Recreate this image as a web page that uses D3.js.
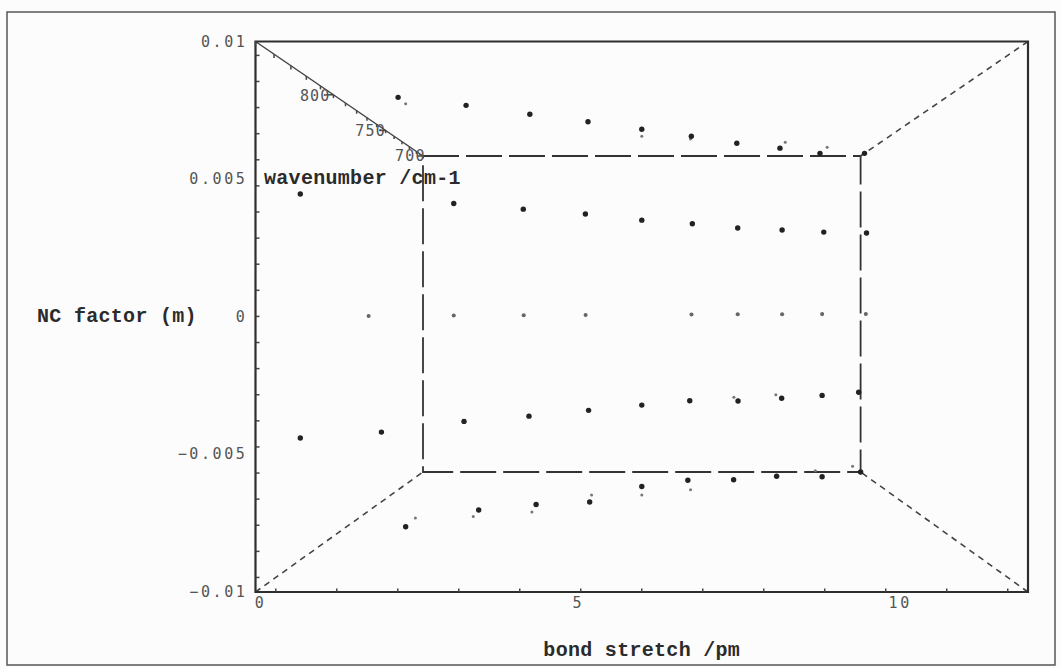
<!DOCTYPE html>
<html>
<head>
<meta charset="utf-8">
<script src="https://cdn.jsdelivr.net/npm/d3@7/dist/d3.min.js"></script>
<style>
  html, body { margin: 0; padding: 0; background: #fcfcfc; }
  svg { display: block; }
  .title { font-family: "Liberation Mono", "DejaVu Sans Mono", monospace; font-weight: bold; font-size: 20px; fill: #2b2b2b; letter-spacing: 0.3px; }
  .tick { font-family: "DejaVu Sans Mono", monospace; font-size: 15px; fill: #555; letter-spacing: 2.6px; }
</style>
</head>
<body>
<svg id="chart" width="1061" height="668"></svg>
<script>
// Bond stretch grid (pm) shared by every NC-factor level
const bondStretch = [0, 1.2, 2.4, 3.6, 4.8, 6.0, 7.2, 8.4, 9.6, 10.8, 12.0];
// NC factor levels (m)
const ncLevels = [0.01, 0.005, 0, -0.005, -0.01];

// Wavenumbers (cm-1), one array per NC level, null = no point
const wnNcP010 = [null, 797, 787, 775, 764, 752, 740, 727, 717, 706, 706];
const wnNcP005 = [824, null, 804, 790, 777, 758, 746, 730, 722, 713, 709];
const wnNc000  = [null, 824, 804, 789, 776, null, 741, 730, 722, 710, 708];
const wnNcM005 = [824, 813, 790, 777, 761, 745, 730, 731, 721, 710, 697];
const wnNcM010 = [null, 789, 767, 759, 755, 729, 717, 716, 709, 710, 700];

// Second set of computed wavenumbers
const wn2NcP010 = [null, 789, null, null, null, 740, 735, null, 729, 719, null];
const wn2NcP005 = [null, null, null, null, null, null, null, null, null, null, null];
const wn2Nc000  = [null, null, null, null, null, null, null, null, null, null, null];
const wn2NcM005 = [null, null, null, null, null, null, null, 717, 707, null, null];
const wn2NcM010 = [null, 778, 776, 770, 744, 744, 735, null, null, 697, 687];

// Axis ticks / labels
const xTickLabels = [0, 5, 10];
const yTickLabels = [0.01, 0.005, 0, -0.005, -0.01];
const zTickLabels = [800, 750, 700];

const seriesA = [wnNcP010, wnNcP005, wnNc000, wnNcM005, wnNcM010];
const seriesB = [wn2NcP010, wn2NcP005, wn2Nc000, wn2NcM005, wn2NcM010];

const svg = d3.select("#chart");

// Front and back faces of the perspective box
const xFront = d3.scaleLinear().domain([0, 12]).range([255.5, 1028]);
const yFront = d3.scaleLinear().domain([-0.01, 0.01]).range([592, 41.5]);
const xBack  = d3.scaleLinear().domain([0, 12]).range([423, 860.6]);
const yBack  = d3.scaleLinear().domain([-0.01, 0.01]).range([472, 156]);
// depth: wavenumber 850 at the front face, 700 at the back face
const depth = d3.scaleLinear().domain([850, 700]).range([0, 1]);
const K = 0.742;
const persp = t => (K * t / (1 + K * t)) / (K / (1 + K));

function project(b, n, wn) {
  const w = persp(depth(wn));
  const xf = xFront(b), xb = xBack(b), yf = yFront(n), yb = yBack(n);
  return [xf + (xb - xf) * w, yf + (yb - yf) * w];
}

const line = d3.line();
const [x0, x1] = xFront.domain();
const [y0, y1] = yFront.domain();
const [zF, zB] = depth.domain();

// Outer frame
svg.append("rect").attr("x", 7).attr("y", 12).attr("width", 1048).attr("height", 653)
  .attr("fill", "none").attr("stroke", "#555").attr("stroke-width", 1.5);

// Back face (dashed)
const backCorners = [[x0, y1], [x1, y1], [x1, y0], [x0, y0], [x0, y1]].map(([b, n]) => project(b, n, zB));
svg.append("path").attr("d", line(backCorners)).attr("fill", "none")
  .attr("stroke", "#333").attr("stroke-width", 1.8).attr("stroke-dasharray", "36,7");

// Depth edges
const edges = [[x1, y1], [x0, y0], [x1, y0]];
edges.forEach(([b, n]) => {
  svg.append("path").attr("d", line([project(b, n, zF), project(b, n, zB)]))
    .attr("fill", "none").attr("stroke", "#444").attr("stroke-width", 1.6)
    .attr("stroke-dasharray", "6,5");
});
// wavenumber axis along the top-left depth edge
svg.append("path").attr("d", line([project(x0, y1, zF), project(x0, y1, zB)]))
  .attr("fill", "none").attr("stroke", "#444").attr("stroke-width", 1.5);

// Front face
const frontCorners = [[x0, y1], [x1, y1], [x1, y0], [x0, y0], [x0, y1]].map(([b, n]) => project(b, n, zF));
svg.append("path").attr("d", line(frontCorners) + "Z").attr("fill", "none")
  .attr("stroke", "#2e2e2e").attr("stroke-width", 2.2);

// Tick marks (placed on a plane just behind the front face)
const tickPlaneWn = 839;
xFront.ticks(12).forEach(v => {
  const px = project(v, y0, tickPlaneWn)[0];
  svg.append("line").attr("x1", px).attr("x2", px)
    .attr("y1", yFront(y0)).attr("y2", yFront(y0) - 3.5)
    .attr("stroke", "#444").attr("stroke-width", 1.5);
});
yFront.ticks(20).forEach(v => {
  const py = project(x0, v, tickPlaneWn)[1];
  svg.append("line").attr("x1", xFront(x0)).attr("x2", xFront(x0) + 4)
    .attr("y1", py).attr("y2", py)
    .attr("stroke", "#444").attr("stroke-width", 1.5);
});
depth.ticks(15).forEach(v => {
  const a = project(x0, y1, v), b = project(x0, y1 - 0.00015, v);
  svg.append("line").attr("x1", a[0]).attr("y1", a[1]).attr("x2", b[0]).attr("y2", b[1])
    .attr("stroke", "#444").attr("stroke-width", 1.5);
});
zTickLabels.forEach(v => {
  const a = project(x0, y1, v), b = project(x0 - 0.15, y1, v);
  svg.append("line").attr("x1", a[0]).attr("y1", a[1]).attr("x2", b[0]).attr("y2", b[1])
    .attr("stroke", "#444").attr("stroke-width", 1.5);
});

// Data points
function drawSeries(series, r, color) {
  series.forEach((row, i) => {
    const n = ncLevels[i];
    row.forEach((wn, j) => {
      if (wn == null) return;
      const [px, py] = project(bondStretch[j], n, wn);
      svg.append("circle").attr("cx", px).attr("cy", py)
        .attr("r", n === 0 ? r * 0.75 : r)
        .attr("fill", n === 0 ? "#666" : color);
    });
  });
}
drawSeries(seriesB, 1.5, "#777");
drawSeries(seriesA, 2.7, "#222");

// Tick labels
yTickLabels.forEach(v => {
  svg.append("text").attr("class", "tick")
    .attr("x", xFront(x0) - 8).attr("y", yFront(v))
    .attr("text-anchor", "end").attr("dominant-baseline", "central")
    .text(v === 0 ? "0" : d3.format("")(v));
});
xTickLabels.forEach(v => {
  svg.append("text").attr("class", "tick")
    .attr("x", xFront(v) + (v === 0 ? 5 : 1)).attr("y", yFront(y0) + 11)
    .attr("text-anchor", "middle").attr("dominant-baseline", "central")
    .text(v);
});
zTickLabels.forEach(v => {
  const [px, py] = project(x0 - 0.38, y1 - 0.0001, v);
  svg.append("text").attr("class", "tick")
    .attr("x", px + 1.3).attr("y", py - 1.5)
    .attr("text-anchor", "middle").attr("dominant-baseline", "central")
    .attr("fill", v === 700 ? "#888" : "#555")
    .style("letter-spacing", "1.2px")
    .text(v);
});

// Axis titles
svg.append("text").attr("class", "title")
  .attr("x", 37).attr("y", yFront(0)).attr("dominant-baseline", "central")
  .text("NC factor (m)");
svg.append("text").attr("class", "title")
  .attr("x", (xFront(x0) + xFront(x1)) / 2).attr("y", 650)
  .attr("text-anchor", "middle").attr("dominant-baseline", "central")
  .text("bond stretch /pm");
svg.append("text").attr("class", "title")
  .attr("x", 264).attr("y", 178).attr("dominant-baseline", "central")
  .text("wavenumber /cm-1");
</script>
</body>
</html>
